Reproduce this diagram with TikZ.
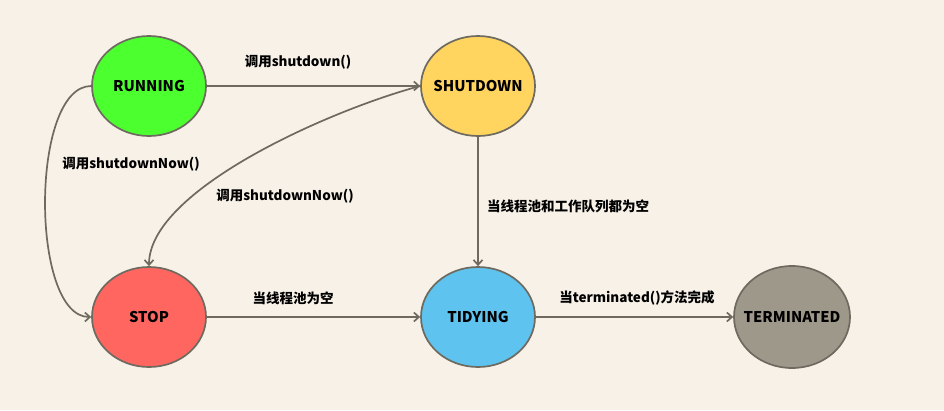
\documentclass[tikz,border=0pt]{standalone}
\usepackage{fontspec}
\setmainfont{Noto Sans CJK SC}
\usetikzlibrary{shapes.geometric,arrows.meta}
\definecolor{bg}{HTML}{F7F1E8}
\definecolor{edgegray}{HTML}{6E6A60}
\definecolor{crun}{HTML}{4CFF2F}
\definecolor{cshut}{HTML}{FFD45F}
\definecolor{cstop}{HTML}{FF6660}
\definecolor{ctidy}{HTML}{5EC3EE}
\definecolor{cterm}{HTML}{9E988A}
\newcommand{\stxt}[1]{\makebox[0pt][c]{#1}}
\tikzset{
  state/.style={ellipse, draw=edgegray, line width=1.7pt, minimum width=114pt, minimum height=100pt, inner sep=0pt, font=\fontsize{14.8}{16}\selectfont\bfseries, text=black},
  conn/.style={draw=edgegray, line width=1.7pt, -{Straight Barb[length=5pt,width=9pt]}},
  lbl/.style={font=\fontsize{13.5}{15}\selectfont\bfseries, text=black, inner sep=0pt}
}
\begin{document}
\begin{tikzpicture}[x=1pt,y=-1pt]
\fill[bg] (0,0) rectangle (944,410);
\useasboundingbox (0,0) rectangle (944,410);
\node[state, fill=crun] (run) at (149,86) {\stxt{RUNNING}};
\node[state, fill=cshut] (shut) at (478,86) {\stxt{SHUTDOWN}};
\node[state, fill=cstop] (stop) at (149,317) {\stxt{STOP}};
\node[state, fill=ctidy] (tidy) at (478,317) {\stxt{TIDYING}};
\node[state, fill=cterm, minimum width=116pt, minimum height=102pt] (term) at (792,317) {\stxt{TERMINATED}};

\draw[conn] (run.east) -- (shut.west);
\draw[conn] (run.west) .. controls (30,86) and (30,317) .. (stop.west);
\draw[conn] (shut.west) .. controls (330,110) and (149,190) .. (stop.north);
\draw[conn] (shut.south) -- (tidy.north);
\draw[conn] (stop.east) -- (tidy.west);
\draw[conn] (tidy.east) -- (term.west);

\node[lbl] (l1) at (298,62) {调用shutdown()};
\node[lbl] (l2) at (131,164) {调用shutdownNow()};
\node[lbl] (l3) at (285,196) {调用shutdownNow()};
\node[lbl] (l4) at (568,206) {当线程池和工作队列都为空};
\node[lbl] (l5) at (293,298) {当线程池为空};
\node[lbl] (l6) at (637,298) {当terminated()方法完成};
\end{tikzpicture}
\end{document}
